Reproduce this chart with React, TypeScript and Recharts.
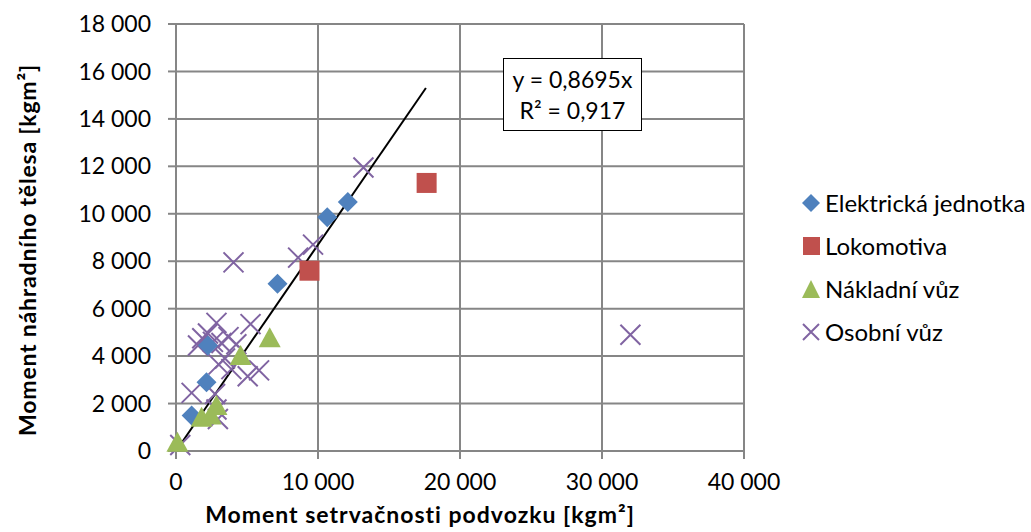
import React from "react";
import {
  ScatterChart,
  Scatter,
  XAxis,
  YAxis,
  CartesianGrid,
  ReferenceLine,
} from "recharts";

// values
const elektrickaJednotka = [
  { x: 1100, y: 1500 },
  { x: 2150, y: 2900 },
  { x: 2250, y: 4450 },
  { x: 7150, y: 7050 },
  { x: 10650, y: 9850 },
  { x: 12100, y: 10500 },
];

const lokomotiva = [
  { x: 9400, y: 7600 },
  { x: 17650, y: 11300 },
];

const nakladniVuz = [
  { x: 100, y: 350 },
  { x: 1800, y: 1400 },
  { x: 2450, y: 1500 },
  { x: 2850, y: 1900 },
  { x: 4550, y: 4000 },
  { x: 6600, y: 4750 },
];

const osobniVuz = [
  { x: 300, y: 250 },
  { x: 1100, y: 2450 },
  { x: 2750, y: 2400 },
  { x: 2850, y: 1750 },
  { x: 2950, y: 1350 },
  { x: 1550, y: 4450 },
  { x: 1850, y: 4750 },
  { x: 2250, y: 4950 },
  { x: 2850, y: 5400 },
  { x: 2600, y: 4600 },
  { x: 3200, y: 4550 },
  { x: 3700, y: 4800 },
  { x: 4250, y: 4500 },
  { x: 5250, y: 5350 },
  { x: 3000, y: 3650 },
  { x: 3450, y: 3900 },
  { x: 3900, y: 3450 },
  { x: 5050, y: 3150 },
  { x: 5850, y: 3400 },
  { x: 4050, y: 7950 },
  { x: 8600, y: 8150 },
  { x: 9650, y: 8700 },
  { x: 13200, y: 11950 },
  { x: 32000, y: 4900 },
];

const xTicks = [0, 10000, 20000, 30000, 40000];
const yTicks = [0, 2000, 4000, 6000, 8000, 10000, 12000, 14000, 16000, 18000];

const slope = 0.8695;
const trendEndX = 17600;

const BLUE = "#4F81BD";
const RED = "#C0504D";
const GREEN = "#9BBB59";
const PURPLE = "#8064A2";
const GRID = "#868686";
const FONT = "Lato, 'Open Sans', sans-serif";

const fmt = (v: number) =>
  v === 0 ? "0" : v.toLocaleString("en-US").replace(/,/g, " ");

const Diamond = ({ cx, cy }: any) => (
  <path
    d={`M${cx},${cy - 10}L${cx + 10},${cy}L${cx},${cy + 10}L${cx - 10},${cy}Z`}
    fill={BLUE}
  />
);

const Square = ({ cx, cy }: any) => (
  <rect x={cx - 10} y={cy - 10} width={20} height={20} fill={RED} />
);

const Triangle = ({ cx, cy }: any) => (
  <path
    d={`M${cx},${cy - 11}L${cx + 11},${cy + 9}L${cx - 11},${cy + 9}Z`}
    fill={GREEN}
  />
);

const Cross = ({ cx, cy }: any) => (
  <path
    d={`M${cx - 10},${cy - 10}L${cx + 10},${cy + 10}M${cx + 10},${cy - 10}L${cx - 10},${cy + 10}`}
    stroke={PURPLE}
    strokeWidth={2}
    fill="none"
  />
);

const legendItems = [
  { name: "Elektrická jednotka", icon: <path d="M9,0L18,9L9,18L0,9Z" fill={BLUE} /> },
  { name: "Lokomotiva", icon: <rect x={1} y={0} width={17} height={18} fill={RED} /> },
  { name: "Nákladní vůz", icon: <path d="M9,0L18,18L0,18Z" fill={GREEN} /> },
  {
    name: "Osobní vůz",
    icon: <path d="M1,1L17,17M17,1L1,17" stroke={PURPLE} strokeWidth={2} />,
  },
];

export default function App() {
  return (
    <div style={{ position: "relative", width: 1031, height: 532, fontFamily: FONT }}>
      <style>{"body{margin:0;overflow:hidden}"}</style>
      <ScatterChart
        width={1031}
        height={532}
        margin={{ top: 24, right: 287, bottom: 31, left: 76 }}
      >
        <CartesianGrid stroke={GRID} strokeWidth={2} />
        <XAxis
          type="number"
          dataKey="x"
          domain={[0, 40000]}
          ticks={xTicks}
          tickFormatter={fmt}
          height={50}
          stroke={GRID}
          strokeWidth={2}
          tickSize={8}
          tickMargin={15}
          tick={{ fill: "#000", fontSize: 23, fontFamily: FONT }}
          label={{
            content: () => (
              <text
                x={420}
                y={523}
                textAnchor="middle"
                fontSize={23}
                fontWeight="bold"
                letterSpacing={1}
                fontFamily={FONT}
                fill="#000"
              >
                Moment setrvačnosti podvozku [kgm²]
              </text>
            ),
          }}
        />
        <YAxis
          type="number"
          dataKey="y"
          domain={[0, 18000]}
          ticks={yTicks}
          tickFormatter={fmt}
          width={100}
          stroke={GRID}
          strokeWidth={2}
          tickSize={8}
          tickMargin={17}
          tick={{ fill: "#000", fontSize: 23, fontFamily: FONT }}
          label={{
            content: () => (
              <text
                x={36}
                y={250}
                transform="rotate(-90 36 250)"
                textAnchor="middle"
                fontSize={23}
                fontWeight="bold"
                letterSpacing={0.8}
                fontFamily={FONT}
                fill="#000"
              >
                Moment náhradního tělesa [kgm²]
              </text>
            ),
          }}
        />
        <ReferenceLine
          segment={[
            { x: 0, y: 0 },
            { x: trendEndX, y: trendEndX * slope },
          ]}
          stroke="#000"
          strokeWidth={2}
        />
        <Scatter name="Osobní vůz" data={osobniVuz} shape={Cross} isAnimationActive={false} />
        <Scatter name="Elektrická jednotka" data={elektrickaJednotka} shape={Diamond} isAnimationActive={false} />
        <Scatter name="Lokomotiva" data={lokomotiva} shape={Square} isAnimationActive={false} />
        <Scatter name="Nákladní vůz" data={nakladniVuz} shape={Triangle} isAnimationActive={false} />
      </ScatterChart>

      <div
        style={{
          position: "absolute",
          left: 503,
          top: 58,
          width: 139,
          height: 73,
          border: "1.5px solid #000",
          background: "#fff",
          fontSize: 23,
          lineHeight: "31px",
          textAlign: "center",
          paddingTop: 5,
          boxSizing: "border-box",
        }}
      >
        <div>y = 0,8695x</div>
        <div>R² = 0,917</div>
      </div>

      <div style={{ position: "absolute", left: 802, top: 181 }}>
        {legendItems.map((it) => (
          <div
            key={it.name}
            style={{ display: "flex", alignItems: "center", height: 43, fontSize: 24 }}
          >
            <svg width={18} height={18} style={{ marginRight: 5 }}>
              {it.icon}
            </svg>
            <span>{it.name}</span>
          </div>
        ))}
      </div>
    </div>
  );
}
